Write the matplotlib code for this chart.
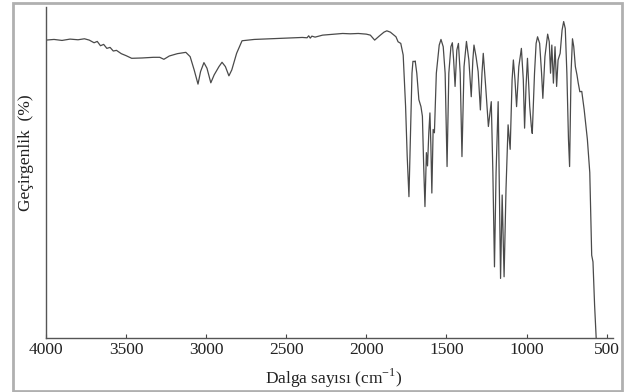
import numpy as np
import matplotlib
matplotlib.use('Agg')
from matplotlib import pyplot as plt
from matplotlib.patches import Rectangle

# IR spectrum (wavenumber cm-1, transmittance in arbitrary %)
Wavenumber = [4000, 3950, 3900, 3850, 3800, 3760, 3730, 3700, 3680, 3660, 3640, 3620, 3600, 3580,
              3560, 3530, 3500, 3465, 3400, 3330, 3290, 3264, 3230, 3180, 3127, 3100, 3075, 3051,
              3035, 3014, 2995, 2971, 2950, 2920, 2901, 2880, 2858, 2840, 2810, 2776, 2700, 2600,
              2500, 2400, 2370, 2360, 2350, 2340, 2320, 2273, 2200, 2148, 2100, 2050, 2000, 1975,
              1948, 1920, 1890, 1872, 1850, 1830, 1815, 1802, 1785, 1770, 1755, 1745, 1734, 1725,
              1715, 1709, 1700, 1695, 1685, 1672, 1659, 1650, 1642, 1634, 1625, 1618, 1610, 1603,
              1597, 1591, 1583, 1575, 1563, 1545, 1534, 1520, 1508, 1496, 1485, 1472, 1463, 1455,
              1446, 1435, 1425, 1414, 1403, 1390, 1375, 1360, 1345, 1335, 1328, 1315, 1302, 1288,
              1278, 1270, 1255, 1238, 1220, 1210, 1200, 1190, 1177, 1168, 1162, 1152, 1140, 1128,
              1115, 1102, 1090, 1082, 1072, 1062, 1048, 1032, 1020, 1012, 1003, 994, 980, 970,
              964, 950, 940, 931, 918, 906, 898, 885, 868, 858, 850, 842, 832, 822,
              812, 803, 790, 778, 768, 758, 748, 738, 731, 722, 713, 705, 695, 685,
              677, 667, 655, 640, 620, 605, 593, 585, 575, 565]
Transmittance = [90.0, 90.2, 89.9, 90.3, 90.1, 90.4, 90.0, 89.2, 89.6, 88.3, 88.7, 87.5, 87.8, 86.7,
                 86.9, 85.9, 85.3, 84.5, 84.6, 84.8, 84.8, 84.2, 85.2, 85.9, 86.3, 85.0, 81.0, 76.7,
                 80.5, 83.2, 81.5, 77.1, 79.5, 82.0, 83.3, 82.0, 79.2, 81.0, 86.0, 89.8, 90.2, 90.4,
                 90.6, 90.8, 90.7, 91.3, 90.6, 91.2, 90.9, 91.5, 91.8, 92.0, 91.9, 92.0, 91.8, 91.5,
                 90.0, 91.2, 92.4, 92.8, 92.4, 91.6, 91.0, 89.5, 89.0, 85.5, 70.0, 55.0, 42.7, 60.0,
                 80.0, 83.6, 83.5, 83.7, 80.0, 72.0, 69.9, 67.0, 52.0, 39.7, 56.0, 52.0, 62.0, 68.0,
                 58.0, 43.8, 63.0, 62.0, 80.0, 88.5, 90.2, 88.0, 80.0, 51.8, 80.0, 88.0, 89.2, 84.0,
                 76.0, 87.0, 89.0, 80.0, 54.8, 82.0, 89.6, 84.0, 72.9, 84.0, 88.5, 85.0, 80.5, 68.9,
                 80.0, 86.0, 76.0, 63.9, 71.4, 50.0, 21.5, 50.0, 71.4, 40.0, 18.0, 43.2, 18.5, 45.0,
                 64.4, 57.0, 78.0, 84.0, 78.0, 69.9, 82.0, 87.5, 78.0, 63.4, 76.0, 84.5, 70.0, 64.0,
                 61.8, 80.0, 89.0, 91.0, 89.0, 80.0, 72.4, 85.0, 91.8, 89.5, 80.0, 88.5, 77.0, 88.0,
                 76.0, 84.0, 86.0, 93.0, 95.6, 93.5, 80.0, 60.0, 51.8, 80.0, 90.4, 88.0, 82.0, 79.5,
                 77.0, 74.4, 74.5, 69.0, 60.0, 50.0, 25.0, 23.0, 10.0, 0.0]
Tick_Values = [4000, 3500, 3000, 2500, 2000, 1500, 1000, 500]

plt.rcParams['font.family'] = ['Liberation Serif', 'DejaVu Serif']
plt.rcParams['mathtext.fontset'] = 'custom'
plt.rcParams['mathtext.rm'] = 'Liberation Serif'

Fig = plt.figure(figsize=(6.29, 3.92), dpi=100)
Fig.patches.append(Rectangle((13/629, 1/392), 609/629, 388/392, transform=Fig.transFigure,
                             fill=False, edgecolor='#b0b0b0', linewidth=2))

Ax = Fig.add_axes([46/629, 1 - 338/392, 567/629, 331/392])
Ax.plot(Wavenumber, Transmittance, color='#4a4a4a', linewidth=0.9)
Ax.set_xlim(4000, 460)
Ax.set_ylim(0, 100)
Ax.set_xticks(Tick_Values)
Ax.set_xticklabels([str(v) for v in Tick_Values], fontsize=12.5, color='#222222')
Ax.tick_params(axis='x', direction='in', length=3, width=0.8, color='#444444', pad=3)
Ax.set_yticks([])
for s in ['top', 'right']:
    Ax.spines[s].set_visible(False)
for s in ['left', 'bottom']:
    Ax.spines[s].set_color('#555555')
    Ax.spines[s].set_linewidth(1.0)

Fig.text(334/629, 1 - 378/392, r'Dalga sayısı (cm$^{\mathrm{-1}}$)', fontsize=12.5,
         ha='center', va='center', color='#222222')
Fig.text(26/629, 1 - 153/392, 'Geçirgenlik  (%)', fontsize=12.5, rotation=90,
         ha='center', va='center', color='#222222')

Fig.savefig('out.png', dpi=100)
